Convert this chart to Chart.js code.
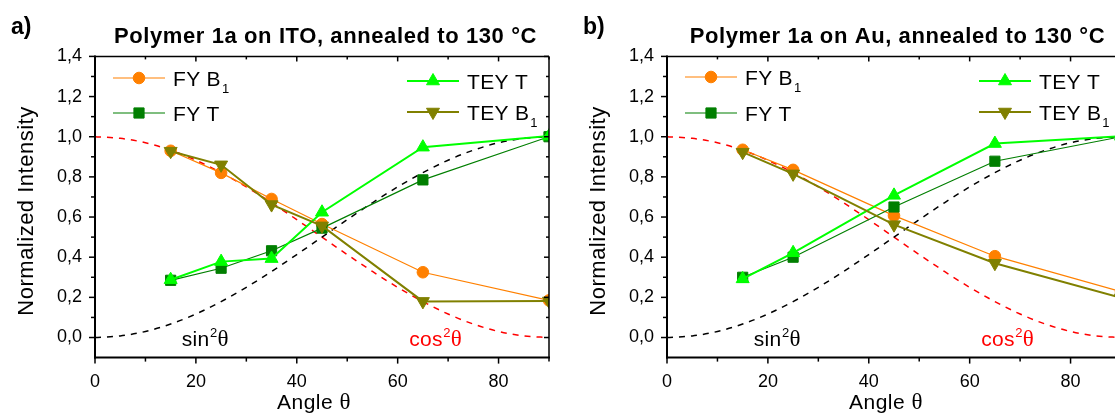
<!DOCTYPE html>
<html>
<head>
<meta charset="utf-8">
<script src="https://cdn.jsdelivr.net/npm/chart.js@4.4.1/dist/chart.umd.min.js"></script>
<style>
html,body{margin:0;padding:0;background:#fff;overflow:hidden;width:1115px;height:414px;}
.wrap{position:absolute;top:0;width:572px;height:414px;}
canvas{display:block;}
</style>
</head>
<body>
<div class="wrap" style="left:0"><canvas id="c1" width="572" height="414" style="width:572px;height:414px"></canvas></div>
<div class="wrap" style="left:572px"><canvas id="c2" width="572" height="414" style="width:572px;height:414px"></canvas></div>
<script>
// ---------------- DATA ----------------
const angleITO = [15, 25, 35, 45, 65, 90];
const itoFyB1  = [0.930, 0.820, 0.690, 0.565, 0.325, 0.185];
const itoFyT   = [0.285, 0.345, 0.432, 0.545, 0.785, 1.000];
const itoTeyT  = [0.288, 0.378, 0.393, 0.624, 0.948, 1.003];
const itoTeyB1 = [0.928, 0.860, 0.662, 0.556, 0.180, 0.182];

const angleAu = [15, 25, 45, 65, 90];
const auFyB1  = [0.935, 0.835, 0.607, 0.405, 0.228];
const auFyT   = [0.300, 0.400, 0.650, 0.878, 1.000];
const auTeyT  = [0.292, 0.422, 0.708, 0.966, 1.002];
const auTeyB1 = [0.923, 0.815, 0.562, 0.370, 0.198];

const curveAngles = [0, 5, 10, 15, 20, 25, 30, 35, 40, 45, 50, 55, 60, 65, 70, 75, 80, 85, 90];
const sinSq = [0, 0.008, 0.030, 0.067, 0.117, 0.179, 0.250, 0.329, 0.413, 0.500, 0.587, 0.671, 0.750, 0.821, 0.883, 0.933, 0.970, 0.992, 1.000];
const cosSq = [1.000, 0.992, 0.970, 0.933, 0.883, 0.821, 0.750, 0.671, 0.587, 0.500, 0.413, 0.329, 0.250, 0.179, 0.117, 0.067, 0.030, 0.008, 0];

const xLabelTicks = [0, 20, 40, 60, 80];
const xMinorTicks = [10, 30, 50, 70, 90];
const yLabelTicks = [0, 0.2, 0.4, 0.6, 0.8, 1.0, 1.2, 1.4];
const yMinorTicks = [0.1, 0.3, 0.5, 0.7, 0.9, 1.1, 1.3];

const legendNames = ['FY B', 'FY T', 'TEY T', 'TEY B'];
const legendSubs  = ['1', '', '', '1'];
const titles = ['Polymer 1a on ITO, annealed to 130 °C', 'Polymer 1a on Au, annealed to 130 °C'];
const letters = ['a)', 'b)'];

// ---------------- STYLE ----------------
const SANS = '"Liberation Sans", Arial, sans-serif';
const SERIF = '"Liberation Serif", "Times New Roman", serif';
const styles = {
  fyB1:  {color: '#FF8000', width: 1.2, pointStyle: 'circle',   radius: 5.8, rotation: 0},
  fyT:   {color: '#007F00', width: 1.2, pointStyle: 'rect',     radius: 7.2, rotation: 0},
  teyT:  {color: '#00FF00', width: 2.0, pointStyle: 'triangle', radius: 7.5, rotation: 0},
  teyB1: {color: '#808000', width: 2.0, pointStyle: 'triangle', radius: 7.5, rotation: 180}
};

function series(label, xs, ys, st) {
  return {
    label, data: xs.map((x, i) => ({x, y: ys[i]})),
    borderColor: st.color, backgroundColor: st.color, borderWidth: st.width,
    pointStyle: st.pointStyle, pointRadius: st.radius, pointRotation: st.rotation,
    pointBackgroundColor: st.color, pointBorderColor: st.color, pointBorderWidth: 1,
    tension: 0, clip: 0, _st: st
  };
}
function curve(label, ys, color) {
  return {
    label, data: curveAngles.map((x, i) => ({x, y: ys[i]})),
    borderColor: color, borderWidth: 1.5, borderDash: [6, 6], pointRadius: 0,
    cubicInterpolationMode: 'monotone', clip: 0
  };
}

function drawText(ctx, s, x, y, font, color, align, spacing) {
  ctx.save();
  ctx.font = font; ctx.fillStyle = color; ctx.textAlign = align || 'left'; ctx.textBaseline = 'alphabetic';
  if ('letterSpacing' in ctx) ctx.letterSpacing = (spacing || 0) + 'px';
  ctx.fillText(s, x, y);
  const w = ctx.measureText(s).width;
  ctx.restore();
  return w;
}

function trigLabel(ctx, fn, x, y, color) {
  let w = drawText(ctx, fn, x, y, `21px ${SANS}`, color, 'left', 0.3);
  drawText(ctx, '2', x + w + 0.5, y - 9, `13px ${SANS}`, color, 'left');
  drawText(ctx, 'θ', x + w + 8, y, `23px ${SERIF}`, color, 'left');
}

const deco = {
  id: 'deco',
  afterDraw(chart, args, o) {
    const ctx = chart.ctx, a = chart.chartArea, xs = chart.scales.x, ys = chart.scales.y;
    ctx.save();
    ctx.strokeStyle = '#000';
    const ln = (x1, y1, x2, y2) => { ctx.beginPath(); ctx.moveTo(x1, y1); ctx.lineTo(x2, y2); ctx.stroke(); };
    // ticks
    ctx.lineWidth = 1.5;
    xLabelTicks.forEach(v => { const p = xs.getPixelForValue(v); ln(p, a.bottom, p, a.bottom + 6); ln(p, a.top, p, a.top + 5); });
    xMinorTicks.forEach(v => { const p = xs.getPixelForValue(v); ln(p, a.bottom, p, a.bottom + 4); ln(p, a.top, p, a.top + 3); });
    yLabelTicks.forEach(v => { const p = ys.getPixelForValue(v); ln(a.left - 6, p, a.left, p); ln(a.right - 5, p, a.right, p); });
    yMinorTicks.forEach(v => { const p = ys.getPixelForValue(v); ln(a.left - 4, p, a.left, p); ln(a.right - 3, p, a.right, p); });
    // frame
    ctx.lineWidth = 1.5;
    ln(a.left, a.top, a.right, a.top); ln(a.right, a.top, a.right, a.bottom);
    ctx.lineWidth = 2;
    ln(a.left, a.top - 1, a.left, a.bottom + 1); ln(a.left - 1, a.bottom, a.right + 1, a.bottom);
    ctx.restore();

    drawText(ctx, o.letter, 11, 34, `bold 23px ${SANS}`, '#000');
    drawText(ctx, o.title, a.left + 230.5, 42.7, `bold 22px ${SANS}`, '#000', 'center', 0.6);

    ctx.save(); ctx.translate(33, 211); ctx.rotate(-Math.PI / 2);
    drawText(ctx, 'Normalized Intensity', 0, 0, `22px ${SANS}`, '#000', 'center', 0.5);
    ctx.restore();

    const w = drawText(ctx, 'Angle ', a.left + 182, 409, `21px ${SANS}`, '#000', 'left', 0.5);
    drawText(ctx, 'θ', a.left + 182 + w, 409, `23px ${SERIF}`, '#000');

    trigLabel(ctx, 'sin', xs.getPixelForValue(o.sinX), 346, '#000');
    trigLabel(ctx, 'cos', xs.getPixelForValue(o.cosX), 346, '#FF0000');

    // legend
    o.legend.forEach(L => {
      const ds = chart.data.datasets[L.ds], st = ds._st;
      const x0 = a.left + L.x, y = L.y;
      ctx.save();
      ctx.strokeStyle = st.color; ctx.fillStyle = st.color; ctx.lineWidth = st.width;
      ln(x0, y, x0 + 52, y);
      ctx.lineWidth = 1;
      Chart.helpers.drawPoint(ctx, {pointStyle: st.pointStyle, rotation: st.rotation, radius: st.radius, borderWidth: 1}, x0 + 26, y);
      ctx.restore();
      const tw = drawText(ctx, legendNames[L.name], x0 + 60, y + 7.6, `21px ${SANS}`, '#000', 'left', 0.3);
      if (legendSubs[L.name]) drawText(ctx, legendSubs[L.name], x0 + 61 + tw, y + 15, `13px ${SANS}`, '#000');
    });
  }
};

function makeChart(id, idx, xsArr, d) {
  const datasets = [
    series('TEY B1', xsArr, d[3], styles.teyB1),
    series('TEY T', xsArr, d[2], styles.teyT),
    series('FY T', xsArr, d[1], styles.fyT),
    series('FY B1', xsArr, d[0], styles.fyB1),
    curve('sin2', sinSq, '#000000'),
    curve('cos2', cosSq, '#FF0000')
  ];
  return new Chart(document.getElementById(id), {
    type: 'line',
    data: {datasets},
    plugins: [deco],
    options: {
      responsive: false, animation: false,
      layout: {padding: {top: 56.4, right: 23, left: 0, bottom: 0}},
      plugins: {
        legend: {display: false}, tooltip: {enabled: false},
        deco: {
          letter: letters[idx], title: titles[idx], sinX: 17.2, cosX: 62.3,
          legend: [
            {ds: 3, name: 0, x: 18, y: idx ? 77 : 78},
            {ds: 2, name: 1, x: 18, y: 113},
            {ds: 1, name: 2, x: 312, y: 81},
            {ds: 0, name: 3, x: 312, y: 112}
          ]
        }
      },
      scales: {
        x: {
          type: 'linear', min: 0, max: 90,
          afterBuildTicks: s => { s.ticks = xLabelTicks.map(v => ({value: v})); },
          afterFit: s => { s.height = 414 - 357.6; },
          grid: {display: false, drawTicks: false}, border: {display: false},
          ticks: {font: {family: SANS, size: 18}, color: '#000', padding: 14, maxRotation: 0, autoSkip: false,
                  callback: v => String(v)}
        },
        y: {
          type: 'linear', min: -0.1, max: 1.4,
          afterBuildTicks: s => { s.ticks = yLabelTicks.map(v => ({value: v})); },
          afterFit: s => { s.width = 95; },
          grid: {display: false, drawTicks: false}, border: {display: false},
          ticks: {font: {family: SANS, size: 18}, color: '#000', padding: 13, autoSkip: false,
                  callback: v => v.toFixed(1).replace('.', ',')}
        }
      }
    }
  });
}

makeChart('c1', 0, angleITO, [itoFyB1, itoFyT, itoTeyT, itoTeyB1]);
makeChart('c2', 1, angleAu, [auFyB1, auFyT, auTeyT, auTeyB1]);
</script>
</body>
</html>
